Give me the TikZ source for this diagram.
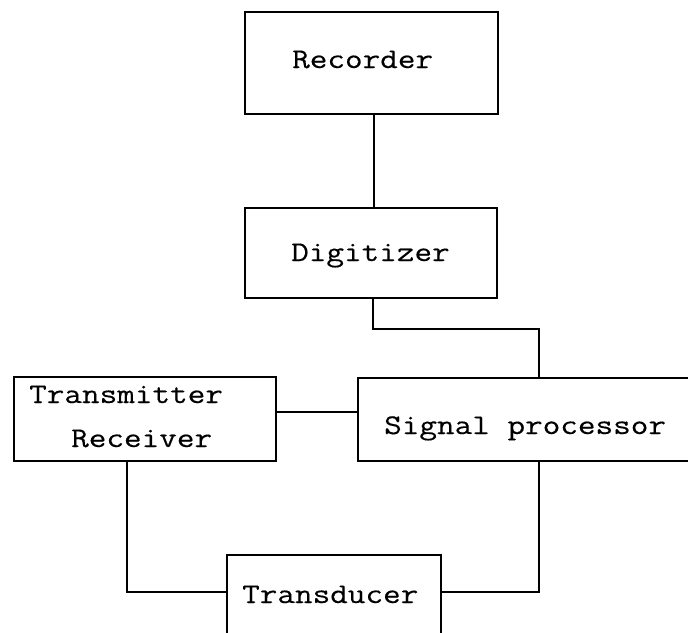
\documentclass[tikz,border=0pt]{standalone}
\usepackage{fontspec}
\newfontfamily\boxfont[FakeStretch=1.2,FakeBold=0.3]{Latin Modern Mono}
\begin{document}
\begin{tikzpicture}[x=1pt,y=-1pt,
  block/.style={draw, line width=1.9pt, inner sep=0pt, anchor=north west},
  label/.style={inner sep=0pt, anchor=base west, font=\boxfont\fontsize{28.5}{30}\selectfont},
  link/.style={line width=1.7pt}]
\useasboundingbox (0,0) rectangle (688,632);
\clip (0,0) rectangle (688,632);

% blocks
\node[block, minimum width=253pt, minimum height=102pt] (rec) at (244,11) {};
\node[block, minimum width=252pt, minimum height=90pt] (dig) at (244,207) {};
\node[block, minimum width=262pt, minimum height=84pt] (tr) at (13,376) {};
\node[block, minimum width=345pt, minimum height=83pt] (sp) at (357,377) {};
\node[block, minimum width=214pt, minimum height=100pt] (td) at (226,554) {};

% block texts
\node[label] (recT) at (292,68) {Recorder};
\node[label] (digT) at (291,261) {Digitizer};
\node[label] (trT1) at (29,403) {Transmitter};
\node[label] (trT2) at (71,447) {Receiver};
\node[label] (spT) at (384,434) {Signal processor};
\node[label] (tdT) at (242,603) {Transducer};

% bend points of the connectors
\coordinate (k1) at (374,0);
\coordinate (b1) at (373,329);
\coordinate (b2) at (539,329);
\coordinate (h1) at (0,412);
\coordinate (b3) at (127,592);
\coordinate (b4) at (539,592);

% connectors
\draw[link] (rec.south -| k1) -- (dig.north -| k1);
\draw[link] (dig.south -| b1) -- (b1) -- (b2) -- (sp.north -| b2);
\draw[link] (tr.east |- h1) -- (sp.west |- h1);
\draw[link] (tr.south -| b3) -- (b3) -- (td.west |- b3);
\draw[link] (sp.south -| b4) -- (b4) -- (td.east |- b4);
\end{tikzpicture}
\end{document}
